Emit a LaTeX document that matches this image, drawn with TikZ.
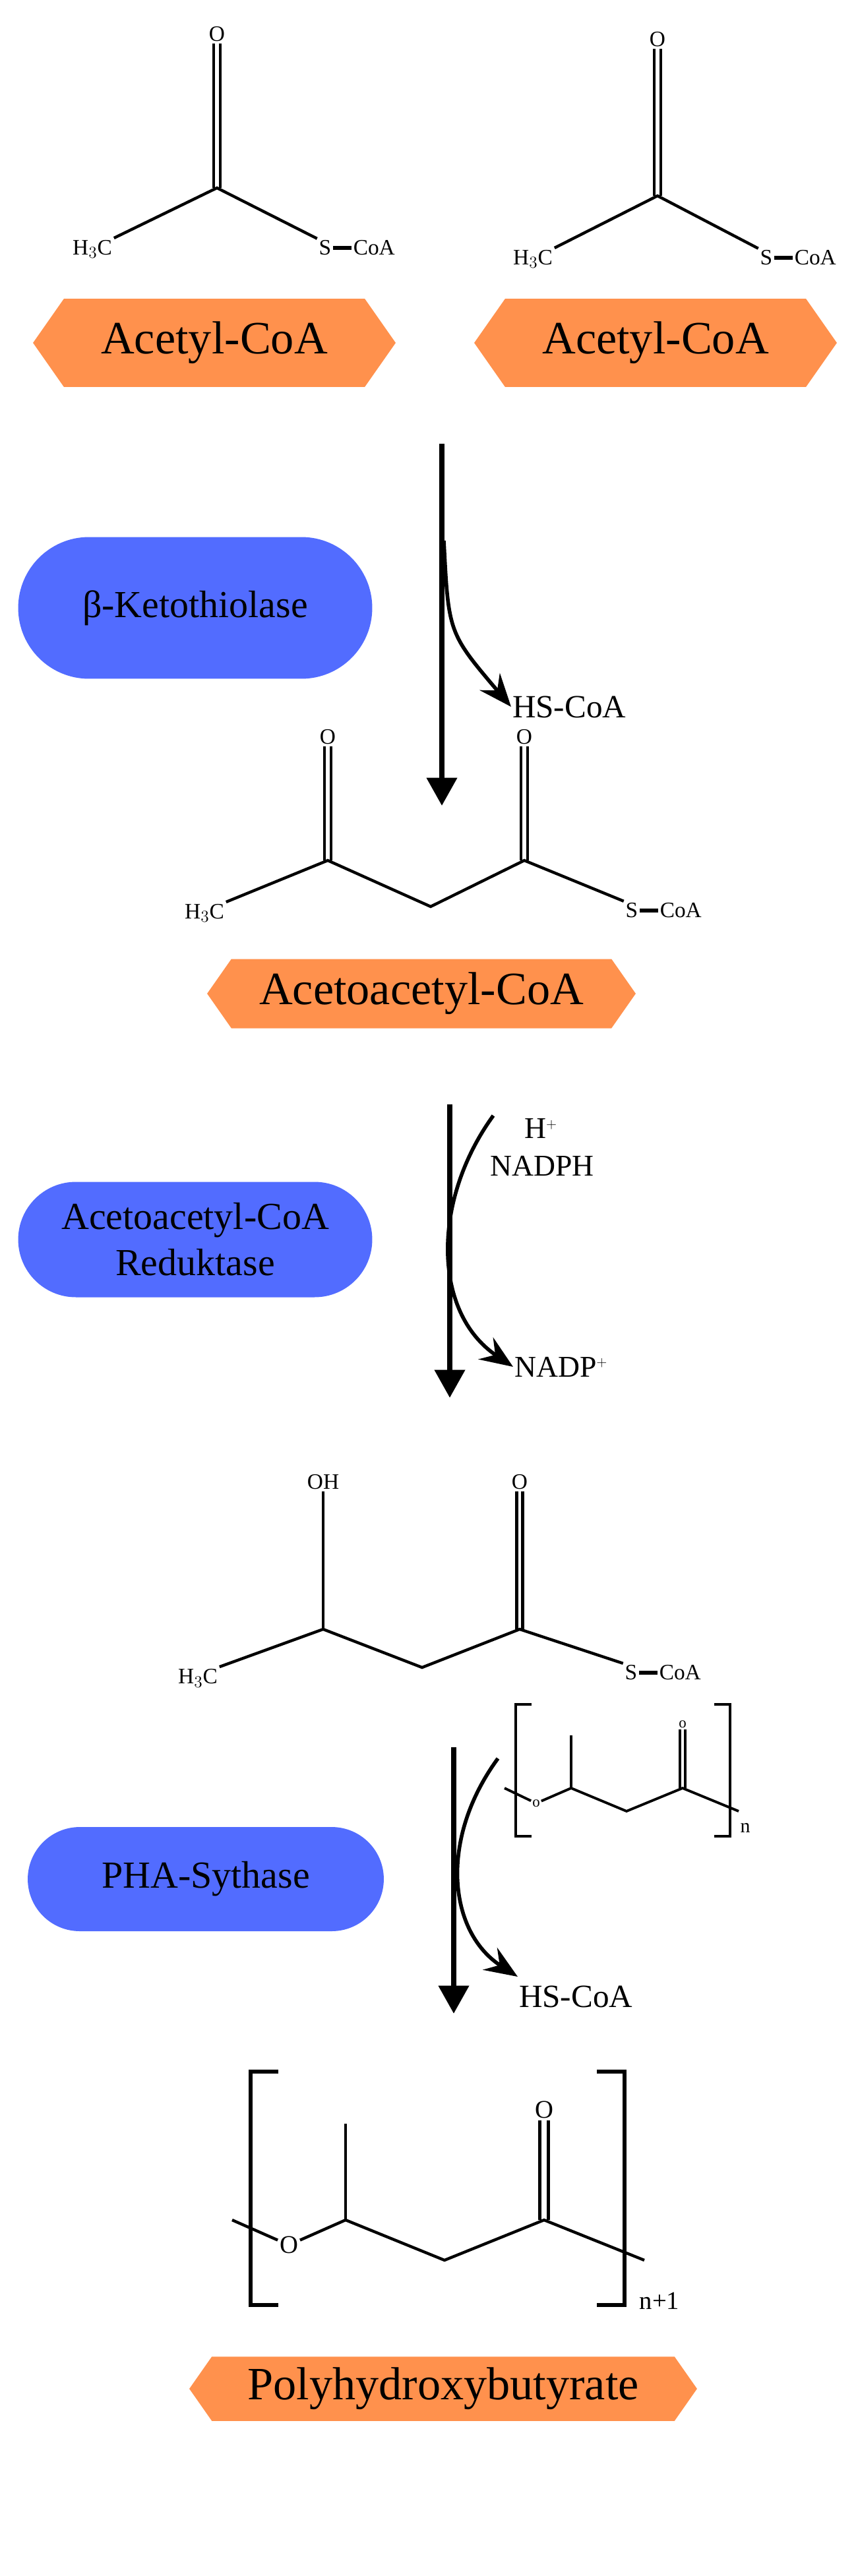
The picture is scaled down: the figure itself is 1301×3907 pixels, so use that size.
\documentclass[tikz,border=0pt]{standalone}
\usepackage{fontspec}
\setmainfont{Liberation Serif}
\usetikzlibrary{arrows.meta,shapes.symbols,shapes.misc,positioning}
\definecolor{substrate}{RGB}{255,145,77}
\definecolor{enzyme}{RGB}{82,108,255}
\tikzset{
    bond/.style={line width=2.5pt},
    atom/.style={inner sep=1.5pt, font=\fontsize{19}{20}\selectfont},
    smallatom/.style={inner sep=1pt, font=\fontsize{13}{14}\selectfont},
    molname/.style={signal, signal to=east and west, fill=substrate, signal pointer angle=110,
                    inner sep=0pt, font=\fontsize{40}{44}\selectfont},
    enz/.style={rounded rectangle, fill=enzyme, align=center, inner sep=0pt,
                font=\fontsize{33}{40}\selectfont},
    rxn/.style={line width=4.5pt, -{Triangle[length=0.85cm,width=0.9cm]}},
    side/.style={line width=3.2pt, -{Stealth[length=1cm,width=0.8cm,inset=0.35cm]}},
    cofactor/.style={inner sep=1pt, anchor=west, font=\fontsize{28}{30}\selectfont}}
\newcommand{\dbond}[3][0.1cm]{%
    \draw[bond] ([xshift=-#1]#2) -- ([xshift=-#1]#3);
    \draw[bond] ([xshift=#1]#2) -- ([xshift=#1]#3);}

\begin{document}
\begin{tikzpicture}[x=0.02cm, y=-0.02cm]
    \useasboundingbox (0,0) rectangle (1301,3907);
    % Acetyl-CoA (left)
    \node[atom] (o1) at (329,52) {O};
    \coordinate (c1) at (329,285);
    \node[atom] (me1) at (140,378) {H$_3$C};
    \node[atom] (s1) at (493,376) {S};
    \node[atom, right=0.55cm of s1] (coa1) {CoA};
    \dbond{o1.south}{c1}
    \draw[bond] (me1.north east) -- (c1) -- (s1.north west);
    \draw[line width=3pt] (s1) -- (coa1);
    \node[molname, minimum width=11cm, minimum height=2.68cm] (acetyl1) at (325,520) {Acetyl-CoA};
    % Acetyl-CoA (right)
    \node[atom] (o2) at (997,60) {O};
    \coordinate (c2) at (997,297);
    \node[atom] (me2) at (808,393) {H$_3$C};
    \node[atom] (s2) at (1162,391) {S};
    \node[atom, right=0.55cm of s2] (coa2) {CoA};
    \dbond{o2.south}{c2}
    \draw[bond] (me2.north east) -- (c2) -- (s2.north west);
    \draw[line width=3pt] (s2) -- (coa2);
    \node[molname, minimum width=11cm, minimum height=2.68cm] (acetyl2) at (994,520) {Acetyl-CoA};

    % step 1
    \coordinate (a1top) at (670,673);
    \coordinate (a1bot) at (670,1222);
    \coordinate (a1side) at (673,820);
    \draw[rxn] (a1top) -- (a1bot);
    \node[enz, minimum width=10.74cm, minimum height=4.3cm] (thiolase) at (296,922) {β-Ketothiolase};
    \node[cofactor] (hscoa1) at (775,1072) {HS-CoA};
    \draw[side] (a1side) .. controls (680,960) .. (hscoa1.west);

    % Acetoacetyl-CoA
    \node[atom] (o3) at (497,1118) {O};
    \node[atom] (o4) at (795,1118) {O};
    \coordinate (c3) at (497,1305);
    \coordinate (c4) at (653,1375);
    \coordinate (c5) at (795,1305);
    \node[atom] (me3) at (310,1385) {H$_3$C};
    \node[atom] (s3) at (958,1381) {S};
    \node[atom, right=0.55cm of s3] (coa3) {CoA};
    \dbond{o3.south}{c3}
    \dbond{o4.south}{c5}
    \draw[bond] (me3.north east) -- (c3) -- (c4) -- (c5) -- (s3.north west);
    \draw[line width=3pt] (s3) -- (coa3);
    \node[molname, minimum width=13cm, minimum height=2.1cm] (acetoacetyl) at (639,1507) {Acetoacetyl-CoA};

    % step 2
    \coordinate (a2top) at (682,1675);
    \coordinate (a2bot) at (682,2120);
    \coordinate (a2side) at (748,1692);
    \draw[rxn] (a2top) -- (a2bot);
    \node[enz, minimum width=10.74cm, minimum height=3.5cm] (reduktase) at (296,1880) {Acetoacetyl-CoA\\Reduktase};
    \node[inner sep=1pt, font=\fontsize{26}{28}\selectfont] (hplus) at (820,1712) {H$^{\scriptscriptstyle +}$};
    \node[inner sep=1pt, font=\fontsize{26}{28}\selectfont] (nadph) at (822,1768) {NADPH};
    \node[cofactor, font=\fontsize{26}{28}\selectfont] (nadp) at (778,2073) {NADP$^{\scriptscriptstyle +}$};
    \draw[side] (a2side) .. controls (655,1820) and (655,1990) .. (nadp.west);

    % 3-Hydroxybutyryl-CoA
    \node[atom] (oh) at (490,2248) {OH};
    \node[atom] (o5) at (788,2248) {O};
    \coordinate (c6) at (490,2471);
    \coordinate (c7) at (640,2529);
    \coordinate (c8) at (788,2471);
    \node[atom] (me4) at (300,2545) {H$_3$C};
    \node[atom] (s4) at (957,2537) {S};
    \node[atom, right=0.55cm of s4] (coa4) {CoA};
    \draw[bond] (oh) -- (c6);
    \dbond[0.09cm]{o5.south}{c8}
    \draw[bond] (me4.north east) -- (c6) -- (c7) -- (c8) -- (s4.north west);
    \draw[line width=3pt] (s4) -- (coa4);

    % PHB chain (n)
    \node[smallatom] (o6) at (813,2735) {o};
    \node[smallatom] (o7) at (1035,2615) {o};
    \coordinate (p1) at (765,2712);
    \coordinate (p2) at (866,2712);
    \coordinate (p3) at (866,2632);
    \coordinate (p4) at (950,2747);
    \coordinate (p5) at (1035,2712);
    \coordinate (p6) at (1120,2747);
    \draw[line width=2.2pt] (p1) -- (o6) -- (p2) -- (p4) -- (p5) -- (p6);
    \draw[line width=2.2pt] (p2) -- (p3);
    \draw[line width=2.2pt] ([xshift=-0.08cm]o7.south) -- ([xshift=-0.08cm]p5);
    \draw[line width=2.2pt] ([xshift=0.08cm]o7.south) -- ([xshift=0.08cm]p5);
    \draw[line width=2.8pt] (806,2585) -| (782,2785) -- (806,2785);
    \draw[line width=2.8pt] (1083,2585) -| (1107,2785) -- (1083,2785);
    \node[smallatom, font=\fontsize{17}{18}\selectfont] (nsmall) at (1130,2772) {n};

    % step 3
    \coordinate (a3top) at (688,2650);
    \coordinate (a3bot) at (688,3054);
    \coordinate (a3side) at (755,2667);
    \draw[rxn] (a3top) -- (a3bot);
    \node[enz, minimum width=10.8cm, minimum height=3.16cm] (synthase) at (312,2850) {PHA-Sythase};
    \node[cofactor] (hscoa2) at (785,3028) {HS-CoA};
    \draw[side] (a3side) .. controls (665,2790) and (680,2930) .. ([yshift=0.6cm]hscoa2.west);

    % PHB chain (n+1)
    \node[atom, font=\fontsize{22}{24}\selectfont] (o8) at (438,3405) {O};
    \node[atom, font=\fontsize{22}{24}\selectfont] (o9) at (825,3200) {O};
    \coordinate (q1) at (352,3367);
    \coordinate (q2) at (524,3367);
    \coordinate (q3) at (524,3221);
    \coordinate (q4) at (674,3428);
    \coordinate (q5) at (825,3367);
    \coordinate (q6) at (977,3428);
    \draw[bond] (q1) -- (o8) -- (q2) -- (q4) -- (q5) -- (q6);
    \draw[bond] (q2) -- (q3);
    \dbond[0.13cm]{o9.south}{q5}
    \draw[line width=3.2pt] (422,3142) -| (380,3496) -- (422,3496);
    \draw[line width=3.2pt] (905,3142) -| (947,3496) -- (905,3496);
    \node[atom, font=\fontsize{22}{24}\selectfont] (nbig) at (1000,3490) {n+1};
    \node[molname, minimum width=15.4cm, minimum height=1.95cm] (phb) at (672,3623) {Polyhydroxybutyrate};
\end{tikzpicture}
\end{document}
